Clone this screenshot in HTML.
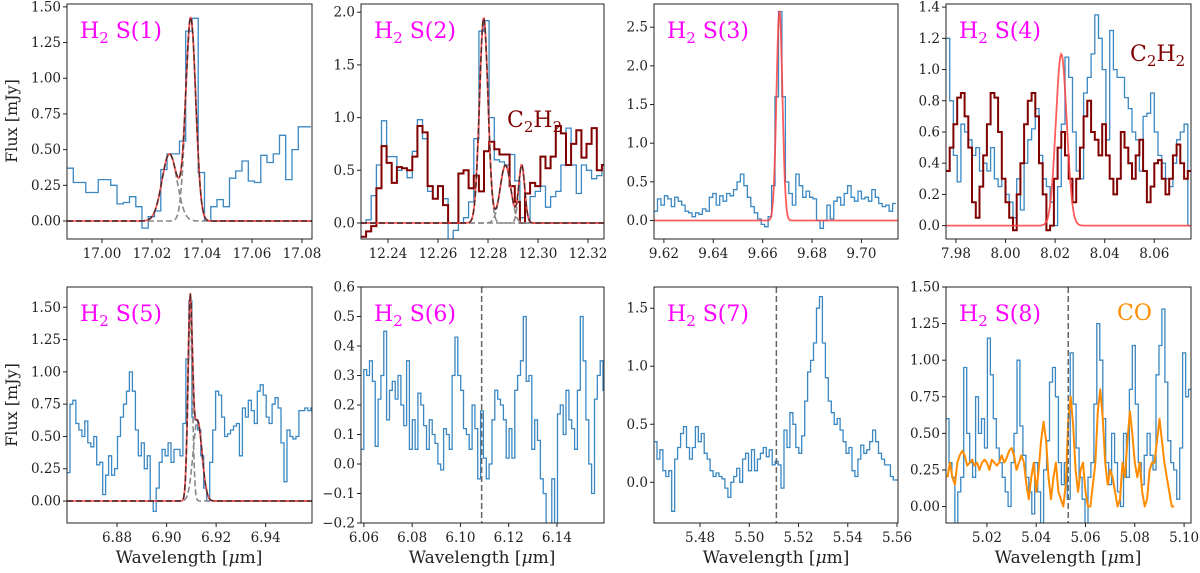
<!DOCTYPE html>
<html><head><meta charset="utf-8">
<style>
body{margin:0;background:#fff;}
svg{display:block;font-family:"DejaVu Serif","Liberation Serif",serif;}
</style></head>
<body>
<svg id="fig" width="1200" height="573" viewBox="0 0 1200 573" xmlns="http://www.w3.org/2000/svg"></svg>
<script>
// ---- data arrays ----
const p1Start=16.986, p1Step=0.0025;
const p1Flux=[0.37,0.27,0.27,0.20,0.20,0.29,0.29,0.25,0.12,0.13,0.17,0.10,-0.05,0.03,0.07,0.36,0.47,0.47,0.56,1.33,1.42,0.34,0.00,0.10,0.15,0.10,0.30,0.35,0.42,0.28,0.27,0.46,0.41,0.47,0.60,0.29,0.50,0.66,0.66];
const p1Gauss=[[17.027,0.47,0.0030],[17.0355,1.42,0.0020]];

const p2Start=12.2292, p2Step=0.00205;
const p2Flux=[0.0,0.03,0.26,0.55,0.97,0.63,0.63,0.50,0.52,0.43,0.68,0.98,0.80,0.30,0.23,0.35,0.23,-0.18,-0.07,0.0,0.05,0.20,0.80,1.82,1.92,1.0,0.60,0.58,0.55,0.65,0.40,0.05,0.0,0.25,0.30,0.35,0.15,0.25,0.30,0.55,0.90,0.55,0.28,0.55,0.50,0.42,0.45,0.55];
const p2C2H2=[-0.13,-0.08,-0.03,0.33,0.73,0.57,0.38,0.53,0.52,0.50,0.63,0.92,0.86,0.35,0.23,0.35,0.17,0.0,0.0,0.47,0.50,0.33,0.45,0.30,0.68,0.77,0.70,0.65,0.65,0.35,0.20,0.0,0.28,0.38,0.35,0.63,0.52,0.63,0.92,0.85,0.55,0.75,0.88,0.62,0.75,0.90,0.50,0.55];
const p2Gauss=[[12.2783,1.95,0.0017],[12.2870,0.55,0.0021],[12.2935,0.55,0.0012]];

const p3Start=9.616, p3Step=0.0014;
const p3Flux=[0.12,0.28,0.2,0.32,0.28,0.18,0.3,0.25,0.2,0.12,0.1,0.05,0.1,0.08,0.15,0.12,0.3,0.35,0.2,0.32,0.25,0.35,0.32,0.4,0.5,0.6,0.45,0.3,0.18,0.1,0.02,-0.05,-0.08,0.05,0.45,1.6,2.7,1.6,0.5,0.35,0.2,0.6,0.45,0.3,0.38,0.3,0.28,0.0,-0.1,0.0,0.2,0.02,0.25,0.3,0.2,0.35,0.45,0.3,0.25,0.38,0.28,0.3,0.25,0.4,0.3,0.22,0.18,0.2,0.12,0.22];
const p3Gauss=[[9.6668,2.72,0.0012]];

const p4Start=7.976, p4Step=0.0015;
const p4Flux=[1.2,0.8,0.45,0.28,0.65,0.6,0.55,0.45,0.5,0.35,0.4,0.35,0.5,0.3,0.25,0.3,0.2,0.15,0.05,0.3,0.1,0.4,0.55,0.62,0.75,0.45,0.3,0.25,0.15,0.0,0.25,0.65,1.08,0.95,0.6,0.35,0.3,0.85,0.95,1.1,1.35,1.2,1.0,0.55,1.25,1.0,0.95,0.95,0.82,0.75,0.6,0.55,0.35,0.7,0.72,0.85,0.6,0.45,0.4,0.3,0.25,0.4,0.55,0.6,0.65,0.0];
const p4C2H2=[0.35,0.5,0.65,0.82,0.85,0.7,0.5,0.15,0.05,0.25,0.45,0.65,0.85,0.82,0.6,0.3,0.15,0.05,-0.03,0.2,0.4,0.65,0.8,0.85,0.7,0.4,0.2,-0.03,0.0,0.3,0.5,0.6,0.45,0.3,0.15,0.3,0.5,0.7,0.8,0.6,0.55,0.45,0.65,0.45,0.3,0.2,0.3,0.6,0.5,0.4,0.3,0.45,0.55,0.35,0.15,0.25,0.4,0.42,0.3,0.2,0.3,0.45,0.52,0.4,0.3,0.35];
const p4Gauss=[[8.0225,1.1,0.0022]];

const p5Start=6.8598, p5Step=0.0012;
const p5Flux=[0.22,0.75,0.78,0.6,0.55,0.5,0.62,0.45,0.42,0.5,0.28,0.3,0.05,0.2,0.35,0.2,0.25,0.5,0.65,0.75,0.85,1.0,0.85,0.55,0.35,0.45,0.25,0.35,0.0,-0.08,0.1,0.3,0.4,0.35,0.45,0.3,0.4,0.4,0.35,0.6,1.1,1.55,0.65,0.63,0.55,0.35,0.1,0.0,0.3,0.55,0.85,0.82,0.65,0.5,0.52,0.55,0.58,0.6,0.35,0.72,0.65,0.78,0.7,0.6,0.85,0.9,0.82,0.65,0.6,0.75,0.8,0.72,0.45,0.15,0.55,0.5,0.48,0.5,0.7,0.7,0.72,0.7,0.72];
const p5Gauss=[[6.9095,1.45,0.0009],[6.9125,0.62,0.0018]];

const p6Start=6.0588, p6Step=0.00118;
const p6Flux=[0.05,0.32,0.3,0.35,0.28,0.06,0.22,0.3,0.45,0.15,0.25,0.28,0.22,0.3,0.2,0.13,0.35,0.05,0.15,0.05,0.24,0.2,0.13,0.05,0.15,0.1,0.07,0.0,-0.02,0.12,0.1,0.05,0.3,0.43,0.3,0.25,0.12,0.1,0.05,0.2,0.12,-0.05,0.18,0.02,-0.05,0.0,0.15,0.25,0.22,0.2,0.15,0.02,0.12,0.02,0.25,0.3,0.35,0.5,0.28,0.3,0.05,0.15,0.08,-0.05,-0.1,-0.3,-0.3,-0.05,-0.25,0.17,0.2,0.1,0.25,0.15,0.12,0.05,0.25,0.5,0.35,0.15,0.0,-0.1,0.22,0.3,0.35,0.25];
const p6Mark=6.1088;

const p7Start=5.4613, p7Step=0.0012;
const p7Flux=[0.35,0.2,0.28,0.1,0.05,0.1,-0.25,0.2,0.3,0.42,0.48,0.3,0.2,0.3,0.48,0.35,0.42,0.25,0.2,0.1,0.05,0.08,0.05,0.03,-0.05,-0.13,0.0,0.05,0.12,0.0,0.2,0.25,0.1,0.28,0.1,0.2,0.25,0.3,0.22,0.28,0.15,0.18,0.15,-0.05,0.45,0.3,0.6,0.5,0.3,0.25,0.4,0.7,0.95,1.05,1.2,1.5,1.6,1.2,0.9,0.7,0.6,0.5,0.55,0.45,0.35,0.25,0.3,0.1,0.05,0.2,0.32,0.25,0.28,0.35,0.45,0.35,0.25,0.2,0.15,0.15,0.05,0.02,0.02];
const p7Mark=5.511;

const p8Start=5.0034, p8Step=0.0012;
const p8Flux=[0.6,0.3,0.2,-0.2,0.1,0.2,0.95,0.5,0.3,0.2,0.75,0.5,0.6,0.4,1.15,0.9,0.6,0.4,0.3,0.2,0.1,0.0,0.3,0.5,1.0,0.55,0.35,0.2,0.1,-0.05,0.3,0.1,-0.25,0.25,0.45,0.85,0.95,0.75,0.3,0.15,0.3,0.05,1.05,0.7,0.4,0.2,0.05,-0.15,0.2,0.3,0.7,1.25,1.0,0.6,0.3,0.15,0.5,0.3,0.1,0.0,0.5,0.2,0.8,1.1,0.7,0.3,0.15,0.35,0.5,0.35,0.25,0.9,1.1,1.35,0.85,0.45,0.3,0.25,0.05,0.4,1.05,0.75,0.8];
const p8COStart=5.004, p8COStep=0.001;
const p8CO=[0.2,0.3,0.2,0.15,0.3,0.35,0.38,0.35,0.28,0.3,0.32,0.28,0.3,0.25,0.3,0.32,0.3,0.25,0.32,0.3,0.28,0.3,0.35,0.3,0.33,0.38,0.4,0.35,0.25,0.3,0.35,0.3,0.15,0.05,0.2,0.3,0.1,0.25,0.45,0.58,0.45,0.2,0.05,0.2,0.3,0.1,0.05,0.0,0.15,0.6,0.75,0.55,0.25,0.1,0.25,0.3,0.1,0.0,0.0,0.15,0.3,0.65,0.8,0.6,0.3,0.15,0.25,0.2,0.1,0.0,0.05,0.3,0.2,0.45,0.65,0.5,0.3,0.2,0.3,0.1,0.0,0.05,0.25,0.3,0.3,0.45,0.6,0.45,0.3,0.2,0.1,0.0,0.0];
const p8Mark=5.053;

const xTicks1=[17.00,17.02,17.04,17.06,17.08], yTicks1=[0,0.25,0.5,0.75,1.0,1.25,1.5];
const xTicks2=[12.24,12.26,12.28,12.30,12.32], yTicks2=[0,0.5,1.0,1.5,2.0];
const xTicks3=[9.62,9.64,9.66,9.68,9.70], yTicks3=[0,0.5,1.0,1.5,2.0,2.5];
const xTicks4=[7.98,8.00,8.02,8.04,8.06], yTicks4=[0,0.2,0.4,0.6,0.8,1.0,1.2,1.4];
const xTicks5=[6.88,6.90,6.92,6.94], yTicks5=[0,0.25,0.5,0.75,1.0,1.25,1.5];
const xTicks6=[6.06,6.08,6.10,6.12,6.14], yTicks6=[-0.2,-0.1,0,0.1,0.2,0.3,0.4,0.5,0.6];
const xTicks7=[5.48,5.50,5.52,5.54,5.56], yTicks7=[0,0.5,1.0,1.5];
const xTicks8=[5.02,5.04,5.06,5.08,5.10], yTicks8=[0,0.25,0.5,0.75,1.0,1.25,1.5];

// ---- rendering ----
const NS="http://www.w3.org/2000/svg";
const svg=document.getElementById('fig');
function mk(tag,attrs,parent){const e=document.createElementNS(NS,tag);for(const k in attrs)e.setAttribute(k,attrs[k]);(parent||svg).appendChild(e);return e;}
const BLUE="#3a87c2", DRED="#800000", RED="#ff4040", ORANGE="#ff8c00";

const panels=[
 {n:1,x0:67,x1:312,y0:4,y1:239,xmin:16.986,xmax:17.084,ymin:-0.126,ymax:1.52,xt:xTicks1,yt:yTicks1,yd:2,xd:2,title:"S(1)",start:p1Start,step:p1Step,flux:p1Flux,gauss:p1Gauss,comps:true},
 {n:2,x0:361,x1:604,y0:4,y1:239,xmin:12.2292,xmax:12.3264,ymin:-0.152,ymax:2.078,xt:xTicks2,yt:yTicks2,yd:1,xd:2,title:"S(2)",start:p2Start,step:p2Step,flux:p2Flux,red:p2C2H2,gauss:p2Gauss,comps:true},
 {n:3,x0:654,x1:898,y0:4,y1:239,xmin:9.616,xmax:9.7148,ymin:-0.239,ymax:2.80,xt:xTicks3,yt:yTicks3,yd:1,xd:2,title:"S(3)",start:p3Start,step:p3Step,flux:p3Flux,gauss:p3Gauss,comps:false},
 {n:4,x0:946,x1:1191,y0:4,y1:239,xmin:7.976,xmax:8.0748,ymin:-0.0857,ymax:1.42,xt:xTicks4,yt:yTicks4,yd:1,xd:2,title:"S(4)",start:p4Start,step:p4Step,flux:p4Flux,red:p4C2H2,gauss:p4Gauss,comps:false},
 {n:5,x0:67,x1:312,y0:287,y1:523,xmin:6.8598,xmax:6.9587,ymin:-0.170,ymax:1.657,xt:xTicks5,yt:yTicks5,yd:2,xd:2,title:"S(5)",start:p5Start,step:p5Step,flux:p5Flux,gauss:p5Gauss,comps:true},
 {n:6,x0:361,x1:604,y0:287,y1:523,xmin:6.0588,xmax:6.1595,ymin:-0.2,ymax:0.6,xt:xTicks6,yt:yTicks6,yd:1,xd:2,title:"S(6)",start:p6Start,step:p6Step,flux:p6Flux,mark:p6Mark},
 {n:7,x0:654,x1:898,y0:287,y1:523,xmin:5.4613,xmax:5.5604,ymin:-0.351,ymax:1.683,xt:xTicks7,yt:yTicks7,yd:1,xd:2,title:"S(7)",start:p7Start,step:p7Step,flux:p7Flux,mark:p7Mark},
 {n:8,x0:946,x1:1191,y0:287,y1:523,xmin:5.0034,xmax:5.1028,ymin:-0.1125,ymax:1.50,xt:xTicks8,yt:yTicks8,yd:2,xd:2,title:"S(8)",start:p8Start,step:p8Step,flux:p8Flux,mark:p8Mark,co:p8CO}
];

function fmt(v,d){let s=v.toFixed(d);if(v<0)s="\u2212"+s.slice(1);return s;}

panels.forEach(p=>{
  const sx=v=>p.x0+(v-p.xmin)/(p.xmax-p.xmin)*(p.x1-p.x0);
  const sy=v=>p.y1-(v-p.ymin)/(p.ymax-p.ymin)*(p.y1-p.y0);
  const g=mk('g',{});
  
  
  const cid='clip'+p.n;
  const cp=mk('clipPath',{id:cid},g);
  mk('rect',{x:p.x0,y:p.y0,width:p.x1-p.x0,height:p.y1-p.y0},cp);
  const plot=mk('g',{'clip-path':'url(#'+cid+')'},g);

  function stepPath(start,step,vals){
    let d='';
    vals.forEach((v,i)=>{const xa=sx(start+i*step),xb=sx(start+(i+1)*step),y=sy(v);
      d+=(i===0?'M':'L')+xa.toFixed(1)+','+y.toFixed(1)+'L'+xb.toFixed(1)+','+y.toFixed(1);});
    return d;
  }
  const bl=mk('path',{d:stepPath(p.start,p.step,p.flux),fill:'none',stroke:BLUE,'stroke-width':1.3},plot);
  
  
  if(p.red){
    const r=mk('path',{d:stepPath(p.start,p.step,p.red),fill:'none',stroke:DRED,'stroke-width':2},plot);
    
    
  }
  if(p.co){
    let d='';p.co.forEach((v,i)=>{d+=(i?'L':'M')+sx(p8COStart+i*p8COStep).toFixed(1)+','+sy(v).toFixed(1);});
    const o=mk('path',{d:d,fill:'none',stroke:ORANGE,'stroke-width':2,'stroke-linejoin':'round'},plot);
    
    
  }
  if(p.gauss){
    const N=300;
    const gv=(c,x)=>c[1]*Math.exp(-0.5*Math.pow((x-c[0])/c[2],2));
    if(p.comps){
      p.gauss.forEach(c=>{let d='';for(let i=0;i<=N;i++){const x=p.xmin+(p.xmax-p.xmin)*i/N;d+=(i?'L':'M')+sx(x).toFixed(1)+','+sy(gv(c,x)).toFixed(1);}
        const e=mk('path',{d:d,fill:'none',stroke:'#888','stroke-width':1.6,'stroke-dasharray':'6,3'},plot);
        
        });
    }
    let d='';for(let i=0;i<=N;i++){const x=p.xmin+(p.xmax-p.xmin)*i/N;let s=0;p.gauss.forEach(c=>s+=gv(c,x));d+=(i?'L':'M')+sx(x).toFixed(1)+','+sy(s).toFixed(1);}
    const t=mk('path',{d:d,fill:'none',stroke:RED,'stroke-width':1.8,opacity:0.85},plot);
    
    
    if(p.comps){
      const t2=mk('path',{d:d,fill:'none',stroke:'#222','stroke-width':1.4,'stroke-dasharray':'6,3',opacity:0.8},plot);
      
      
    }
  }
  if(p.mark){
    const m=mk('line',{x1:sx(p.mark),x2:sx(p.mark),y1:p.y0,y2:p.y1,stroke:'#666','stroke-width':1.5,'stroke-dasharray':'6,3'},plot);
    
    
  }
  const fr=mk('rect',{x:p.x0,y:p.y0,width:p.x1-p.x0,height:p.y1-p.y0,fill:'none',stroke:'#222','stroke-width':1},g);
  
  
  p.xt.forEach(v=>{const x=sx(v);if(x<p.x0-1||x>p.x1+1)return;
    mk('line',{x1:x,x2:x,y1:p.y1,y2:p.y1+4,stroke:'#222'},g);
    const t=mk('text',{x:x,y:p.y1+19,'text-anchor':'middle','font-size':13.5,fill:'#222'},g);t.textContent=fmt(v,p.xd);
    
    });
  p.yt.forEach(v=>{const y=sy(v);if(y<p.y0-1||y>p.y1+1)return;
    mk('line',{x1:p.x0-4,x2:p.x0,y1:y,y2:y,stroke:'#222'},g);
    const t=mk('text',{x:p.x0-6,y:y+4.5,'text-anchor':'end','font-size':13.5,fill:'#222'},g);t.textContent=fmt(v,p.yd);
    
    });
  const tt=mk('text',{x:p.x0+13,y:p.y0+34,'font-size':22,fill:'#ff00ff'},g);
  tt.innerHTML='H<tspan font-size="15" dy="5">2</tspan><tspan dy="-5"> '+p.title+'</tspan>';
  
  
});

function label(txt,x,y,col,name,size){const t=mk('text',{x:x,y:y,'font-size':size||22,fill:col});t.innerHTML=txt;
  
  return t;}
label('C<tspan font-size="15" dy="5">2</tspan><tspan dy="-5">H</tspan><tspan font-size="15" dy="5">2</tspan>',507,127,DRED,'c2h2-label');
label('C<tspan font-size="15" dy="5">2</tspan><tspan dy="-5">H</tspan><tspan font-size="15" dy="5">2</tspan>',1130,61,DRED,'c2h2-label-s4');
label('CO',1117,320,ORANGE,'co-label');

[[12,121],[12,405]].forEach(a=>{const t=mk('text',{x:0,y:0,'font-size':16,fill:'#222','text-anchor':'middle',transform:'translate('+(a[0]+5)+','+a[1]+') rotate(-90)'});t.textContent='Flux [mJy]';
  
  });
[189,482,776,1068].forEach(x=>{const t=mk('text',{x:x,y:563,'font-size':17,fill:'#222','text-anchor':'middle'});t.innerHTML='Wavelength [<tspan font-style="italic">μ</tspan>m]';
  
  });
</script>
</body></html>
